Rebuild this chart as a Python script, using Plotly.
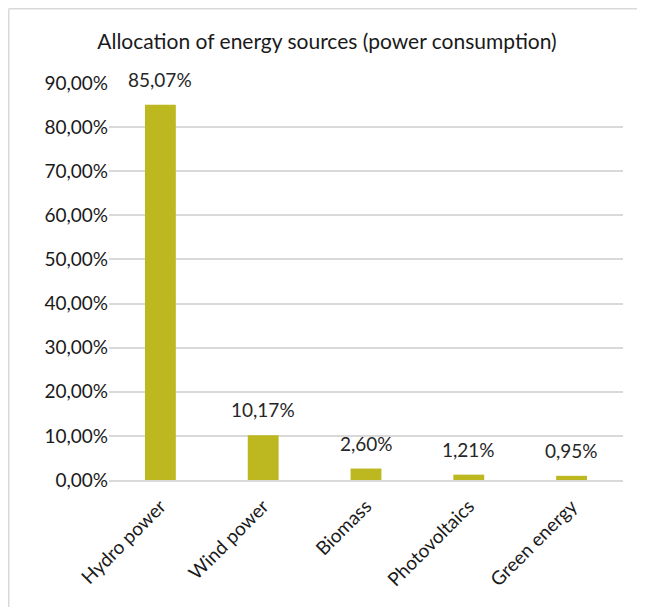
import plotly.graph_objects as go

categories = ["Hydro power", "Wind power", "Biomass", "Photovoltaics", "Green energy"]
shares = [0.8507, 0.1017, 0.0260, 0.0121, 0.0095]
y_ticks = [0.0, 0.1, 0.2, 0.3, 0.4, 0.5, 0.6, 0.7, 0.8, 0.9]
title_text = "Allocation of energy sources (power consumption)"

W, H = 645, 607
ml, mr, mt, mb = 101, 30, 75, 135
FONT = "Lato"
TXT = "#262626"
BAR = "#BDB81F"

fig = go.Figure()
fig.add_trace(go.Bar(
    x=categories, y=shares,
    marker=dict(color=BAR, line=dict(width=0)),
    width=0.3,
    hoverinfo="skip",
))

for c, v in zip(categories, shares):
    fig.add_annotation(
        x=c, y=v, xref="x", yref="y",
        text=f"{v*100:.2f}%".replace(".", ","),
        showarrow=False, yanchor="bottom", yshift=12,
        font=dict(family=FONT, size=19, color=TXT),
    )

pw = W - ml - mr
ph = H - mt - mb
# light frame around chart (only top and left edges visible)
fx0 = (0.75 - ml) / pw
fx1 = (W + 20 - ml) / pw
fy1 = 1 + (mt - 0.75) / ph
fy0 = -(mb + 20) / ph
frame = dict(color="#D9D9D9", width=1.5)
fig.add_shape(type="line", xref="paper", yref="paper", x0=fx0, x1=fx1, y0=fy1, y1=fy1,
              line=frame, layer="below")
fig.add_shape(type="line", xref="paper", yref="paper", x0=fx0, x1=fx0, y0=fy0, y1=fy1,
              line=frame, layer="below")

fig.update_layout(
    width=W, height=H,
    margin=dict(l=ml, r=mr, t=mt, b=mb),
    paper_bgcolor="white", plot_bgcolor="white",
    separators=",.",
    showlegend=False,
    title=dict(text=title_text, x=(327 - 8) / W, xref="container", xanchor="center",
               y=1 - 34 / H, yref="container", yanchor="middle",
               font=dict(family=FONT, size=21, color="#1a1a1a")),
    font=dict(family=FONT, size=19, color=TXT),
    bargap=0.7,
)
fig.update_yaxes(range=[0, 0.9], tickvals=y_ticks, tickformat=".2%",
                 showgrid=True, gridcolor="#D9D9D9", gridwidth=1.5,
                 zeroline=False, showline=False, ticks="", ticklen=0,
                 tickfont=dict(family=FONT, size=19, color="#1a1a1a"))
fig.update_xaxes(tickangle=-45, showline=True, linecolor="#D9D9D9", linewidth=1.5,
                 ticks="", ticklabelstandoff=6,
                 tickfont=dict(family=FONT, size=19, color="#1a1a1a"))

fig.write_html("out.html")
